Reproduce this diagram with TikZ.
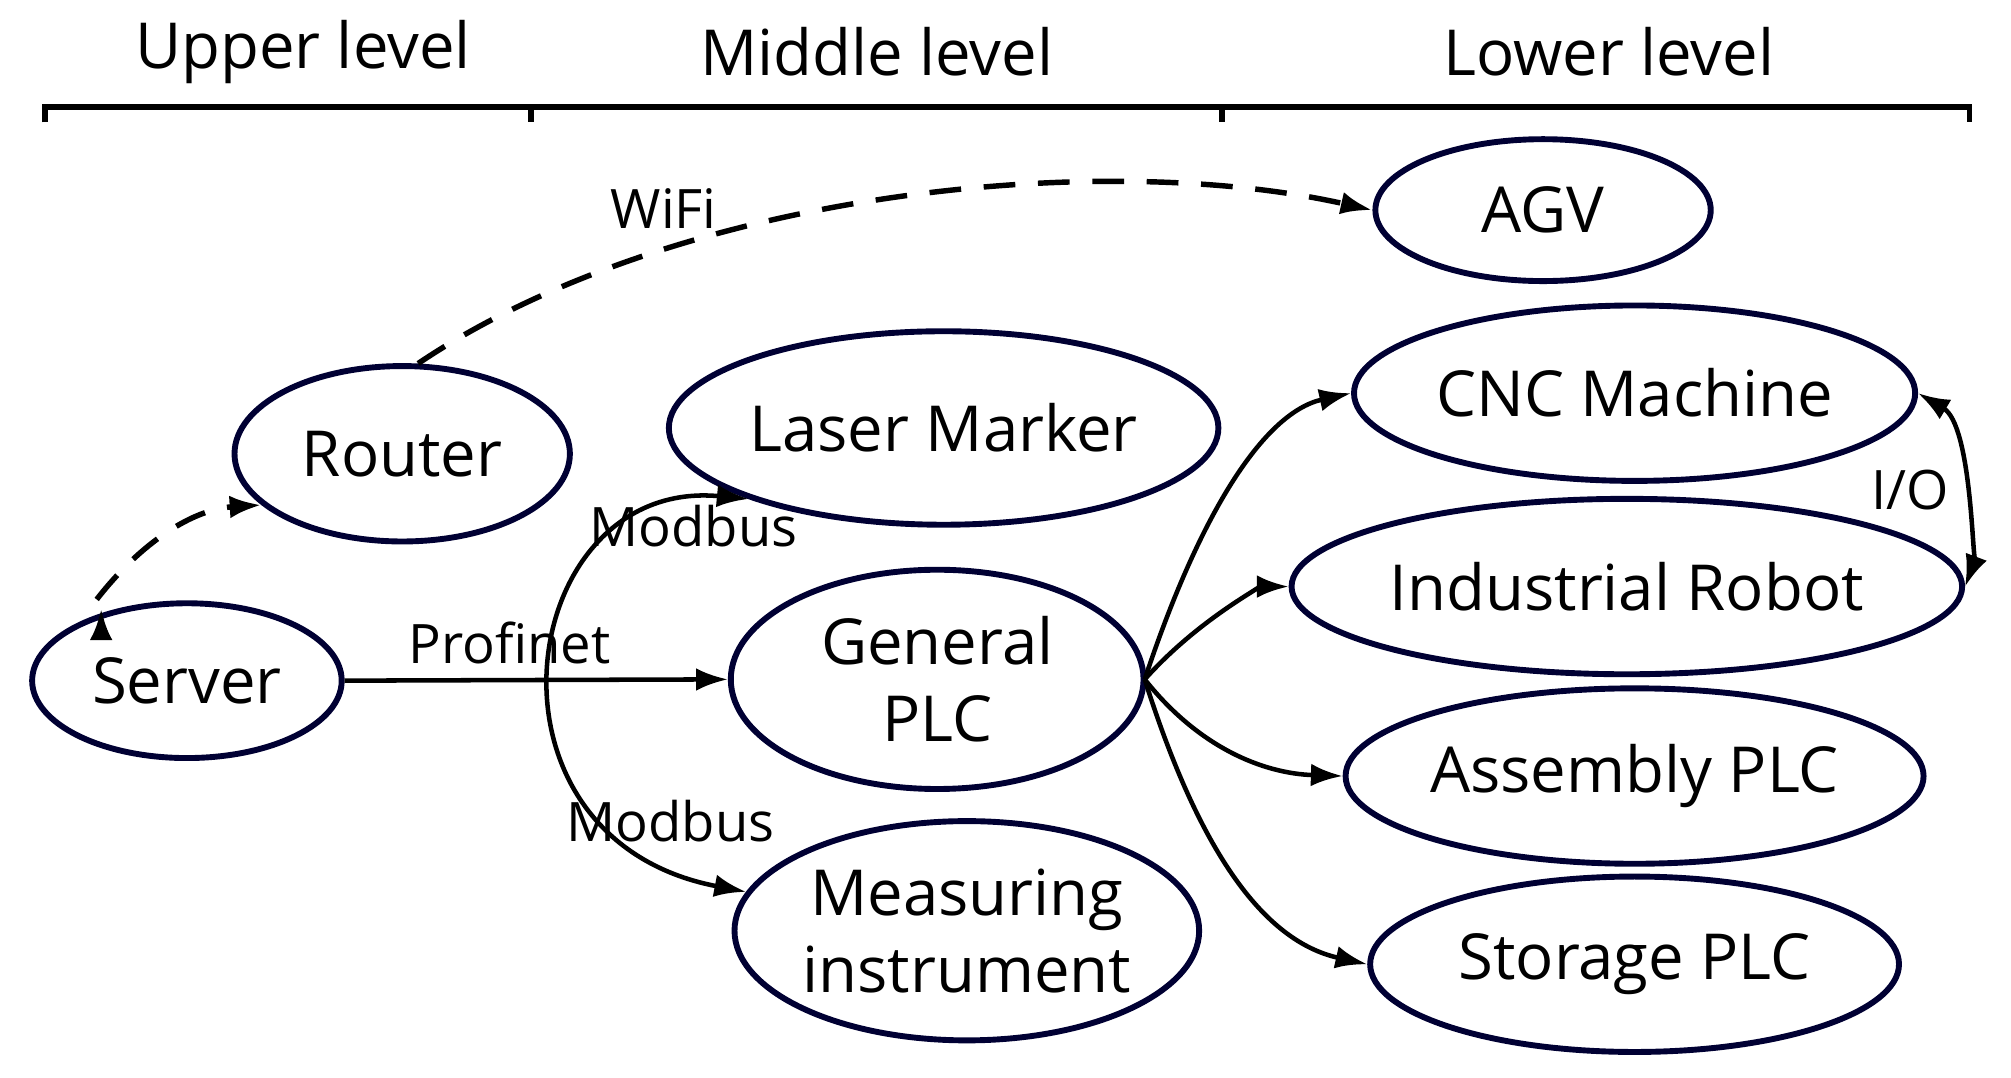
\documentclass[tikz,border=0pt]{standalone}
\usepackage{fontspec}
\setmainfont{Open Sans}
\usetikzlibrary{shapes.geometric,arrows.meta}
\begin{document}
\begin{tikzpicture}[x=0.01cm,y=-0.01cm,
  el/.style={ellipse,draw=black!80!blue,line width=1.3pt,inner sep=0pt,font=\fontsize{14}{17}\selectfont,align=center},
  con/.style={line width=1pt,-{Latex[length=7pt,width=5pt]}},
  dsh/.style={con,dash pattern=on 7pt off 5pt,line width=1.2pt},
  lab/.style={font=\fontsize{10.5}{12}\selectfont,inner sep=1pt}]
\useasboundingbox (0,0) rectangle (1560,836);
% header
\draw[line width=1.2pt] (35,95) -- (35,83) -- (1528,83) -- (1528,95);
\draw[line width=1.2pt] (412,83) -- (412,95) (948,83) -- (948,95);
\node[font=\fontsize{14}{16}\selectfont] (hu) at (235,40) {Upper level};
\node[font=\fontsize{14}{16}\selectfont] (hm) at (680,40) {Middle level};
\node[font=\fontsize{14}{16}\selectfont] (hl) at (1248,40) {Lower level};
% nodes
\node[el,minimum width=2.4cm,minimum height=1.2cm] (srv) at (145,528) {Server};
\node[el,minimum width=2.6cm,minimum height=1.36cm] (rt) at (312,352) {Router};
\node[el,minimum width=3.3cm,minimum height=1.5cm] (lm) at (732,332) {Laser Marker};
\node[el,minimum width=3.2cm,minimum height=1.7cm] (gp) at (727,527) {General\\PLC};
\node[el,minimum width=3.6cm,minimum height=1.7cm] (mi) at (750,722) {Measuring\\instrument};
\node[el,minimum width=2.6cm,minimum height=1.1cm] (agv) at (1197,163) {AGV};
\node[el,minimum width=4.1cm,minimum height=1.36cm] (cnc) at (1268,305) {CNC Machine};
\node[el,minimum width=4.15cm,minimum height=1.36cm] (ir) at (1262,455) {Industrial Robot};
\node[el,minimum width=4.1cm,minimum height=1.36cm] (ap) at (1268,602) {Assembly PLC};
\node[el,minimum width=4.1cm,minimum height=1.36cm] (sp) at (1268,748) {Storage PLC};
% connectors
\draw[dsh] (srv.north west) ++(20,-12) coordinate (s1);
\draw[dsh] (75,465) .. controls (110,420) and (150,395) .. (rt.200);
\draw[dsh] (rt.80) .. controls (520,150) and (850,115) .. (agv.west) node[lab,pos=0.28,above=3pt,font=\fontsize{12}{14}\selectfont]{WiFi};
\draw[con] (srv.east) -- (gp.west) node[lab,pos=0.43,above=2pt,font=\fontsize{12}{14}\selectfont]{Profinet};
\draw[con,{Latex[length=7pt,width=5pt]}-{Latex[length=7pt,width=5pt]}] (lm.200) .. controls (400,370) and (360,650) .. (mi.170);
\node[lab,font=\fontsize{12}{14}\selectfont] (m1) at (538,408) {Modbus};
\node[lab,font=\fontsize{12}{14}\selectfont] (m2) at (520,637) {Modbus};
\coordinate (gr) at (888,527);
\draw[con] (gr) .. controls (930,400) and (980,320) .. (cnc.west);
\draw[con] (gr) .. controls (930,480) and (980,455) .. (ir.west);
\draw[con] (gr) .. controls (930,580) and (980,600) .. (ap.west);
\draw[con] (gr) .. controls (930,660) and (980,730) .. (sp.west);
\draw[con,{Latex[length=7pt,width=5pt]}-{Latex[length=7pt,width=5pt]}] (cnc.east) .. controls (1530,330) and (1530,440) .. (ir.east);
\node[lab,font=\fontsize{12}{14}\selectfont] (io) at (1482,380) {I/O};
\end{tikzpicture}
\end{document}
